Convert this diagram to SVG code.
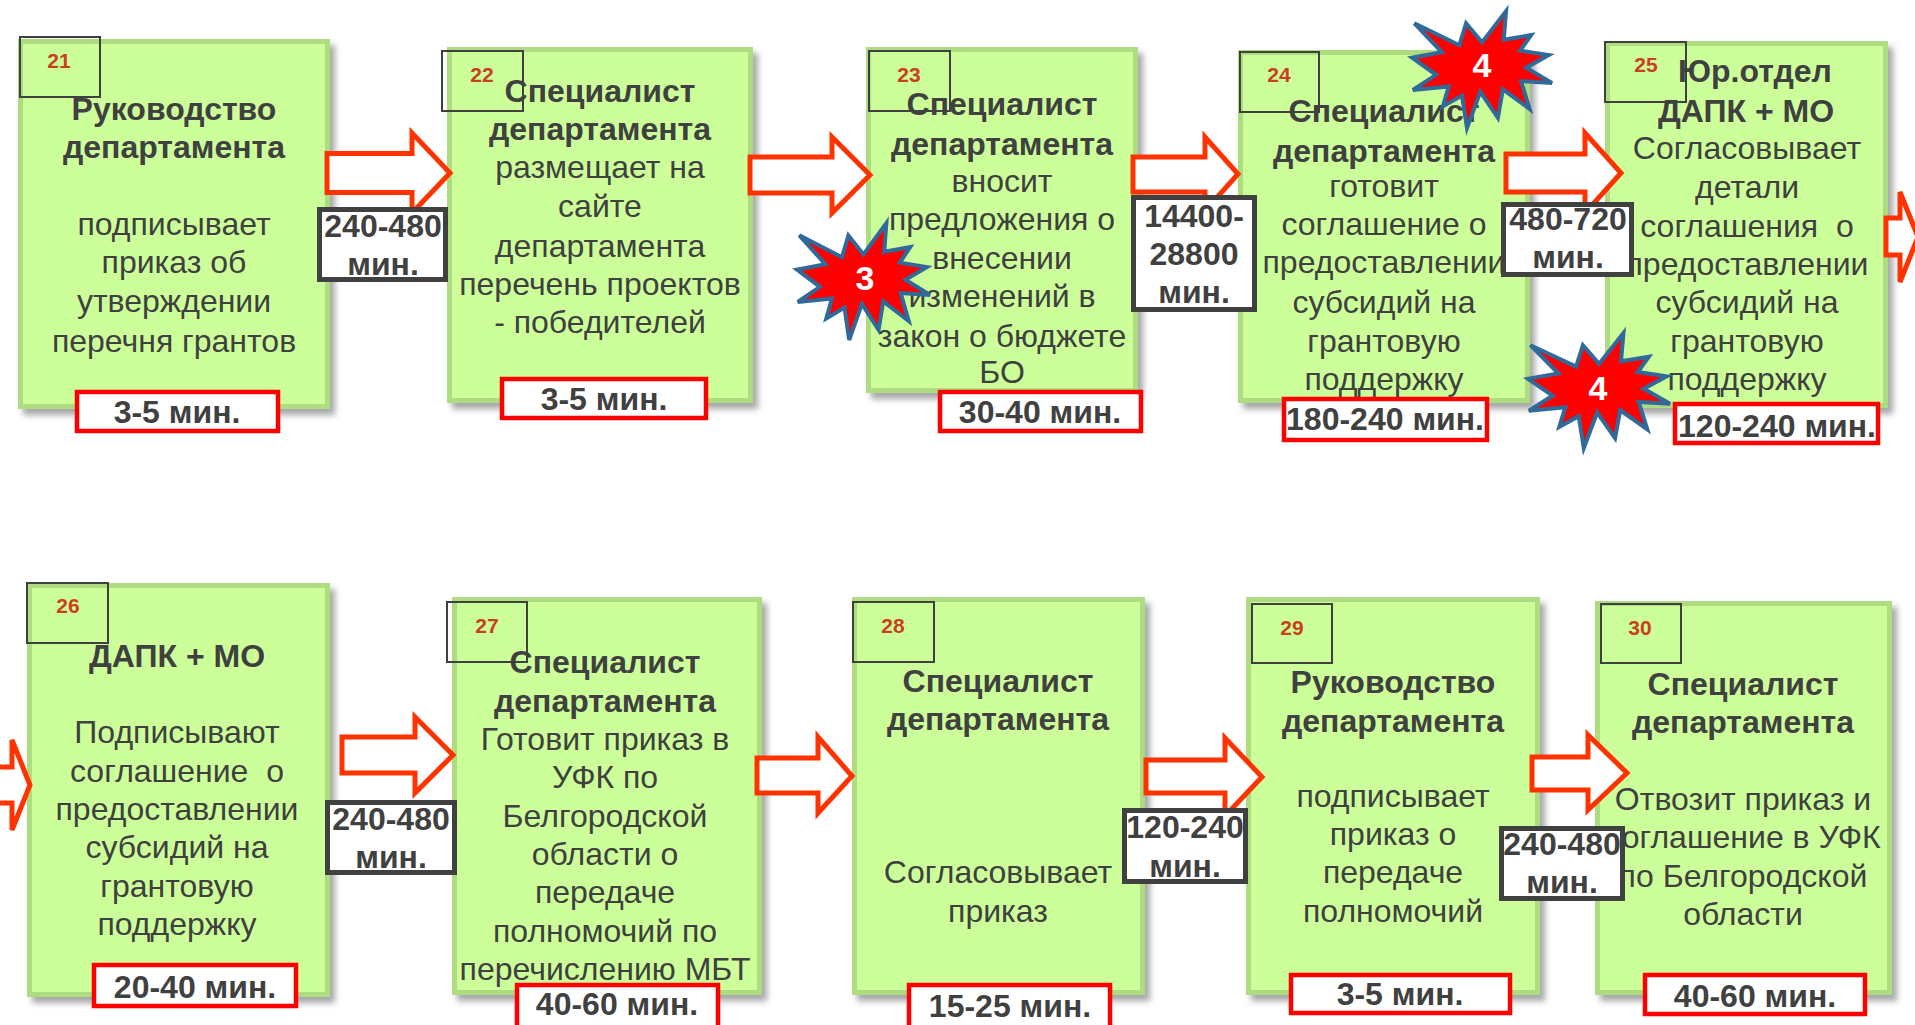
<svg xmlns="http://www.w3.org/2000/svg" width="1915" height="1025" viewBox="0 0 1915 1025">
<defs>
<filter id="sh" x="-10%" y="-10%" width="130%" height="130%">
<feDropShadow dx="5" dy="6" stdDeviation="3" flood-color="#000" flood-opacity="0.35"/>
</filter>
<style>
text{font-family:"Liberation Sans",Arial,sans-serif;text-anchor:middle;fill:#404040;font-size:32px}
.box{fill:#ccff99;stroke:#aedc80;stroke-width:5;filter:url(#sh)}
.num{fill:none;stroke:#404040;stroke-width:2}
.nt{font-size:21px;font-weight:bold;fill:#c8401e}
.b{font-weight:bold}
.time{fill:#fff;stroke:#ff0000;stroke-width:4.5}
.arr{fill:#fff;stroke:#ff3300;stroke-width:5;stroke-linejoin:miter}
.lbl{fill:#fff;stroke:#404040;stroke-width:5}
.star{fill:#ff0000;stroke:#2f6a9a;stroke-width:4;stroke-linejoin:miter}
.st{font-size:34px;font-weight:bold;fill:#fff}
</style>
</defs>
<rect width="1915" height="1025" fill="#fff"/>

<g id="node21">
<rect class="box" x="20.5" y="41.5" width="307" height="365"/>
<rect class="num" x="20" y="37" width="80" height="60"/>
<text class="nt" x="59" y="68">21</text>
<text class="b"><tspan x="174" y="120">Руководство</tspan><tspan x="174" y="158">департамента</tspan></text>
<text><tspan x="174" y="235">подписывает</tspan><tspan x="174" y="273">приказ об</tspan><tspan x="174" y="312">утверждении</tspan><tspan x="174" y="352">перечня грантов</tspan></text>
<rect class="time" x="77" y="392" width="201" height="39"/>
<text class="b" x="177" y="423">3-5 мин.</text>
</g>

<g id="node22">
<rect class="box" x="449.5" y="49.5" width="301" height="351"/>
<rect class="num" x="442" y="51" width="81" height="60"/>
<text class="nt" x="482" y="82">22</text>
<text class="b"><tspan x="600" y="102">Специалист</tspan><tspan x="600" y="140">департамента</tspan></text>
<text><tspan x="600" y="178">размещает на</tspan><tspan x="600" y="217">сайте</tspan><tspan x="600" y="257">департамента</tspan><tspan x="600" y="295">перечень проектов</tspan><tspan x="600" y="333">- победителей</tspan></text>
<rect class="time" x="502" y="379" width="204" height="39"/>
<text class="b" x="604" y="410">3-5 мин.</text>
</g>

<g id="node23">
<rect class="box" x="868.5" y="49.5" width="267" height="341"/>
<rect class="num" x="869" y="51" width="81" height="60"/>
<text class="nt" x="909" y="82">23</text>
<text class="b"><tspan x="1002" y="115">Специалист</tspan><tspan x="1002" y="155">департамента</tspan></text>
<text><tspan x="1002" y="192">вносит</tspan><tspan x="1002" y="230">предложения о</tspan><tspan x="1002" y="269">внесении</tspan><tspan x="1002" y="307">изменений в</tspan><tspan x="1002" y="347">закон о бюджете</tspan><tspan x="1002" y="383">БО</tspan></text>
<rect class="time" x="940" y="392" width="201" height="39"/>
<text class="b" x="1040" y="423">30-40 мин.</text>
</g>

<g id="node24">
<rect class="box" x="1240.5" y="52.5" width="287" height="348"/>
<rect class="num" x="1240" y="52" width="79" height="60"/>
<text class="nt" x="1279" y="82">24</text>
<text class="b"><tspan x="1384" y="122">Специалист</tspan><tspan x="1384" y="162">департамента</tspan></text>
<text><tspan x="1384" y="197">готовит</tspan><tspan x="1384" y="235">соглашение о</tspan><tspan x="1384" y="273">предоставлении</tspan><tspan x="1384" y="313">субсидий на</tspan><tspan x="1384" y="352">грантовую</tspan><tspan x="1384" y="390">поддержку</tspan></text>
<rect class="time" x="1284" y="399" width="203" height="41"/>
<text class="b" x="1385" y="430">180-240 мин.</text>
</g>

<g id="node25">
<rect class="box" x="1607.5" y="43.5" width="278" height="362"/>
<rect class="num" x="1605" y="42" width="81" height="60"/>
<text class="nt" x="1646" y="72">25</text>
<text class="b"><tspan x="1755" y="82">Юр.отдел</tspan><tspan x="1746" y="122">ДАПК + МО</tspan></text>
<text><tspan x="1747" y="159">Согласовывает</tspan><tspan x="1747" y="198">детали</tspan><tspan x="1747" y="237" xml:space="preserve">соглашения  о</tspan><tspan x="1747" y="275">предоставлении</tspan><tspan x="1747" y="313">субсидий на</tspan><tspan x="1747" y="352">грантовую</tspan><tspan x="1747" y="390">поддержку</tspan></text>
<rect class="time" x="1675" y="404" width="203" height="39"/>
<text class="b" x="1777" y="437">120-240 мин.</text>
</g>

<g id="node26">
<rect class="box" x="29.5" y="585.5" width="298" height="409"/>
<rect class="num" x="27" y="583" width="81" height="60"/>
<text class="nt" x="68" y="613">26</text>
<text class="b" x="177" y="667">ДАПК + МО</text>
<text><tspan x="177" y="743">Подписывают</tspan><tspan x="177" y="782" xml:space="preserve">соглашение  о</tspan><tspan x="177" y="820">предоставлении</tspan><tspan x="177" y="858">субсидий на</tspan><tspan x="177" y="897">грантовую</tspan><tspan x="177" y="935">поддержку</tspan></text>
<rect class="time" x="94" y="965" width="202" height="41"/>
<text class="b" x="195" y="998">20-40 мин.</text>
</g>

<g id="node27">
<rect class="box" x="454.5" y="599.5" width="305" height="393"/>
<rect class="num" x="447" y="602" width="80" height="60"/>
<text class="nt" x="487" y="633">27</text>
<text class="b"><tspan x="605" y="673">Специалист</tspan><tspan x="605" y="712">департамента</tspan></text>
<text><tspan x="605" y="750">Готовит приказ в</tspan><tspan x="605" y="788">УФК по</tspan><tspan x="605" y="827">Белгородской</tspan><tspan x="605" y="865">области о</tspan><tspan x="605" y="903">передаче</tspan><tspan x="605" y="942">полномочий по</tspan><tspan x="605" y="980">перечислению МБТ</tspan></text>
<rect class="time" x="517" y="985" width="201" height="45"/>
<text class="b" x="617" y="1015">40-60 мин.</text>
</g>

<g id="node28">
<rect class="box" x="854.5" y="599.5" width="288" height="393"/>
<rect class="num" x="853" y="602" width="81" height="60"/>
<text class="nt" x="893" y="633">28</text>
<text class="b"><tspan x="998" y="692">Специалист</tspan><tspan x="998" y="730">департамента</tspan></text>
<text><tspan x="998" y="883">Согласовывает</tspan><tspan x="998" y="922">приказ</tspan></text>
<rect class="time" x="909" y="985" width="201" height="45"/>
<text class="b" x="1010" y="1017">15-25 мин.</text>
</g>

<g id="node29">
<rect class="box" x="1248.5" y="599.5" width="289" height="393"/>
<rect class="num" x="1252" y="604" width="80" height="59"/>
<text class="nt" x="1292" y="635">29</text>
<text class="b"><tspan x="1393" y="693">Руководство</tspan><tspan x="1393" y="732">департамента</tspan></text>
<text><tspan x="1393" y="807">подписывает</tspan><tspan x="1393" y="845">приказ о</tspan><tspan x="1393" y="883">передаче</tspan><tspan x="1393" y="922">полномочий</tspan></text>
<rect class="time" x="1291" y="975" width="219" height="38"/>
<text class="b" x="1400" y="1005">3-5 мин.</text>
</g>

<g id="node30">
<rect class="box" x="1597.5" y="603.5" width="292" height="389"/>
<rect class="num" x="1601" y="604" width="80" height="59"/>
<text class="nt" x="1640" y="635">30</text>
<text class="b"><tspan x="1743" y="695">Специалист</tspan><tspan x="1743" y="733">департамента</tspan></text>
<text><tspan x="1743" y="810">Отвозит приказ и</tspan><tspan x="1743" y="848">соглашение в УФК</tspan><tspan x="1743" y="887">по Белгородской</tspan><tspan x="1743" y="925">области</tspan></text>
<rect class="time" x="1645" y="975" width="220" height="39"/>
<text class="b" x="1755" y="1007">40-60 мин.</text>
</g>

<g id="connectors">
<polygon class="arr" points="327,153.5 412,153.5 412,133 450,173 412,213 412,192.5 327,192.5"/>
<polygon class="arr" points="750,157 832,157 832,137 870,175 832,213 832,193 750,193"/>
<polygon class="arr" points="1133,157 1205,157 1205,137 1238,174 1205,211 1205,192 1133,192"/>
<polygon class="arr" points="1506,154 1585,154 1585,133 1621,173 1585,213 1585,192 1506,192"/>
<polygon class="arr" points="1886,218 1900,218 1900,192 1918,237 1900,282 1900,255 1886,255"/>
<polygon class="arr" points="-50,767 12,767 12,740 30,785 12,830 12,803 -50,803"/>
<polygon class="arr" points="342,737 415,737 415,717 453,755 415,793 415,773 342,773"/>
<polygon class="arr" points="757,758 818,758 818,737 852,776 818,813 818,793 757,793"/>
<polygon class="arr" points="1146,760 1225,760 1225,738 1262,777 1225,816 1225,793 1146,793"/>
<polygon class="arr" points="1532,757 1588,757 1588,735 1627,773 1588,810 1588,790 1532,790"/>

<rect class="lbl" x="319.5" y="209.5" width="126" height="70"/>
<text class="b"><tspan x="383" y="237">240-480</tspan><tspan x="383" y="275">мин.</tspan></text>
<rect class="lbl" x="1133.5" y="197.5" width="121" height="112"/>
<text class="b"><tspan x="1194" y="227">14400-</tspan><tspan x="1194" y="265">28800</tspan><tspan x="1194" y="303">мин.</tspan></text>
<rect class="lbl" x="1503.5" y="204.5" width="128" height="70"/>
<text class="b"><tspan x="1568" y="230">480-720</tspan><tspan x="1568" y="268">мин.</tspan></text>
<rect class="lbl" x="327.5" y="802.5" width="127" height="70"/>
<text class="b"><tspan x="391" y="830">240-480</tspan><tspan x="391" y="868">мин.</tspan></text>
<rect class="lbl" x="1124.5" y="810.5" width="121" height="71"/>
<text class="b"><tspan x="1185" y="838">120-240</tspan><tspan x="1185" y="877">мин.</tspan></text>
<rect class="lbl" x="1501.5" y="828.5" width="121" height="70"/>
<text class="b"><tspan x="1562" y="855">240-480</tspan><tspan x="1562" y="893">мин.</tspan></text>
</g>

<g id="star3">
<polygon class="star" points="863.5,254.4 886.4,223 884.2,251.8 910.2,247.1 899.8,262.6 926.9,267.1 905.4,279.7 930,295 900.7,293.1 908.7,321 883.3,301.3 878.6,329.9 861.9,303.9 849.2,340 844.5,307.6 826.3,318.4 831.9,298.5 797.8,302 819.9,286.8 797,269.7 825.5,264.3 799.3,235.4 842,257.2 848.4,235.4"/>
<text class="st" x="865" y="290">3</text>
</g>
<g id="star4a">
<polygon class="star" points="1482,42.4 1506.1,11 1503.7,39.8 1531.1,35.1 1520.2,50.6 1548.7,55.1 1526.1,67.7 1552,83 1521.1,81.1 1529.6,109 1502.9,89.3 1497.9,117.9 1480.3,91.9 1467,128 1462,95.6 1442.9,106.4 1448.7,86.5 1412.9,90 1436.1,74.8 1412,57.7 1442,52.3 1414.4,23.4 1459.4,45.2 1466.1,23.4"/>
<text class="st" x="1482" y="77">4</text>
</g>
<g id="star4b">
<polygon class="star" points="1599,363.9 1623.5,333 1621,361.3 1648.8,356.7 1637.8,372 1666.7,376.3 1643.7,388.8 1670,403.8 1638.7,401.9 1647.3,429.3 1620.2,410 1615.1,438.1 1597.2,412.5 1583.8,448 1578.7,416.2 1559.3,426.8 1565.3,407.2 1528.9,410.7 1552.5,395.7 1528,378.9 1558.4,373.5 1530.4,345.2 1576.1,366.6 1582.9,345.2"/>
<text class="st" x="1598" y="400">4</text>
</g>
</svg>
